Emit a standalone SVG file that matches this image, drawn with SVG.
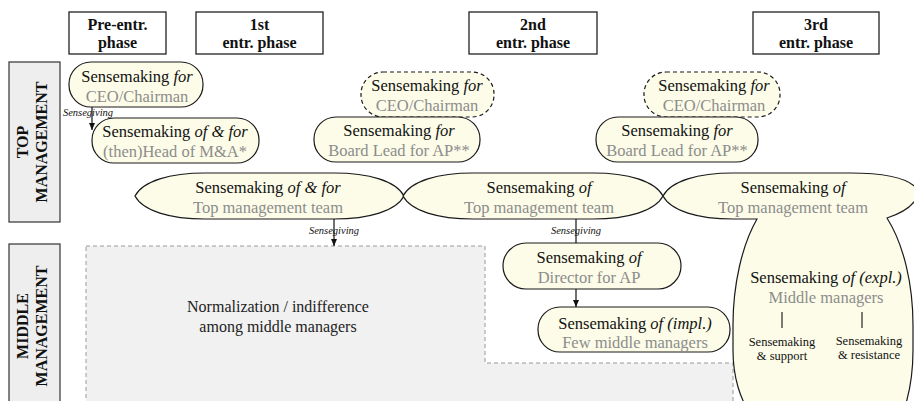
<svg xmlns="http://www.w3.org/2000/svg" width="914" height="401" viewBox="0 0 914 401">
<style>
.node{fill:#fcfce8;stroke:#1a1a1a;stroke-width:1.2}
.dash{stroke-dasharray:4 3}
.hbox{fill:#ffffff;stroke:#222;stroke-width:1.3}
.side{fill:#eeeeee;stroke:#333;stroke-width:1.2}
text{font-family:"Liberation Serif","Times New Roman",Tinos,"DejaVu Serif",serif}
.hdr{font-size:16px;font-weight:bold;fill:#111;text-anchor:middle}
.t1{font-size:16.5px;fill:#111;text-anchor:middle}
.t2{font-size:16.5px;fill:#8c8c8c;text-anchor:middle}
.t3{font-size:16px;fill:#222;text-anchor:middle}
.sm{font-size:12.5px;fill:#111;text-anchor:middle}
.sg{font-size:10.5px;font-style:italic;fill:#111;text-anchor:middle}
.conn{stroke:#111;stroke-width:1.2;fill:none}
.i{font-style:italic}
</style>
<defs>
<marker id="ah" markerWidth="8" markerHeight="8" refX="7" refY="4" orient="auto" markerUnits="userSpaceOnUse"><path d="M0,1 L7,4 L0,7 Z" fill="#111"/></marker>
</defs>

<g id="phase-headers">
<g id="hdr-pre"><rect class="hbox" x="69" y="12" width="97" height="42"/><text class="hdr" x="117.5" y="30">Pre-entr.</text><text class="hdr" x="117.5" y="48">phase</text></g>
<g id="hdr-1st"><rect class="hbox" x="196" y="12" width="127" height="42"/><text class="hdr" x="259.5" y="30">1st</text><text class="hdr" x="259.5" y="48">entr. phase</text></g>
<g id="hdr-2nd"><rect class="hbox" x="469" y="12" width="128" height="42"/><text class="hdr" x="533" y="30">2nd</text><text class="hdr" x="533" y="48">entr. phase</text></g>
<g id="hdr-3rd"><rect class="hbox" x="753" y="12" width="126" height="42"/><text class="hdr" x="816" y="30">3rd</text><text class="hdr" x="816" y="48">entr. phase</text></g>
</g>

<g id="side-top">
<rect class="side" x="9" y="62" width="51" height="160"/>
<text class="hdr" transform="translate(28,142) rotate(-90)">TOP</text>
<text class="hdr" transform="translate(47,142) rotate(-90)">MANAGEMENT</text>
</g>
<g id="side-middle">
<rect class="side" x="9" y="244" width="51" height="170"/>
<text class="hdr" transform="translate(28,326) rotate(-90)">MIDDLE</text>
<text class="hdr" transform="translate(47,326) rotate(-90)">MANAGEMENT</text>
</g>

<g id="normalization-region">
<polygon points="86,246 485,246 485,363 733,363 733,410 86,410" fill="#f1f1f1" stroke="#9a9a9a" stroke-width="1" stroke-dasharray="4 3"/>
<text class="t3" x="278" y="312">Normalization / indifference</text>
<text class="t3" x="278" y="332">among middle managers</text>
</g>

<g id="n-ceo-pre">
<rect class="node" x="69" y="62" width="134" height="45" rx="22" ry="22"/>
<text class="t1" x="137" y="82">Sensemaking <tspan class="i">for</tspan></text>
<text class="t2" x="137" y="102">CEO/Chairman</text>
</g>
<g id="n-head-ma">
<rect class="node" x="92" y="118" width="167" height="45" rx="22" ry="22"/>
<text class="t1" x="175" y="137">Sensemaking <tspan class="i">of &amp; for</tspan></text>
<text class="t2" x="175" y="157">(then)Head of M&amp;A*</text>
</g>
<g id="n-ceo-2nd">
<rect class="node dash" x="361" y="72" width="133" height="45" rx="22" ry="22"/>
<text class="t1" x="427" y="91">Sensemaking <tspan class="i">for</tspan></text>
<text class="t2" x="427" y="111">CEO/Chairman</text>
</g>
<g id="n-board-2nd">
<rect class="node" x="314" y="117" width="166" height="45" rx="22" ry="22"/>
<text class="t1" x="399" y="136">Sensemaking <tspan class="i">for</tspan></text>
<text class="t2" x="399" y="156">Board Lead for AP**</text>
</g>
<g id="n-ceo-3rd">
<rect class="node dash" x="644" y="72" width="136" height="45" rx="22" ry="22"/>
<text class="t1" x="714" y="91">Sensemaking <tspan class="i">for</tspan></text>
<text class="t2" x="714" y="111">CEO/Chairman</text>
</g>
<g id="n-board-3rd">
<rect class="node" x="596" y="117" width="162" height="45" rx="22" ry="22"/>
<text class="t1" x="677" y="136">Sensemaking <tspan class="i">for</tspan></text>
<text class="t2" x="677" y="156">Board Lead for AP**</text>
</g>

<g id="n-tmt-1st">
<path class="node" d="M135,196 C143,181 170,173 205,173 L334,173 C369,173 396,181 404,196 C396,211 369,219 334,219 L205,219 C170,219 143,211 135,196 Z"/>
<text class="t1" x="268" y="193">Sensemaking <tspan class="i">of &amp; for</tspan></text>
<text class="t2" x="268" y="213">Top management team</text>
</g>
<g id="n-tmt-2nd">
<path class="node" d="M403,196 C411,181 438,173 473,173 L593,173 C628,173 655,181 663,196 C655,211 628,219 593,219 L473,219 C438,219 411,211 403,196 Z"/>
<text class="t1" x="539" y="193">Sensemaking <tspan class="i">of</tspan></text>
<text class="t2" x="539" y="213">Top management team</text>
</g>
<g id="n-tmt-3rd-mm">
<path class="node" d="M663,196 C671,181 698,173 733,173 L850,173 C885,173 912,178 919,192 C916,205 902,213 887,218 C904,245 913,285 913,325 L913,350 C913,378 909,398 901,418 L752,418 C740,398 733,378 733,350 L733,325 C733,285 742,245 757,219 L733,219 C698,219 671,211 663,196 Z"/>
<text class="t1" x="793" y="193">Sensemaking <tspan class="i">of</tspan></text>
<text class="t2" x="793" y="213">Top management team</text>
<text class="t1" x="826" y="283">Sensemaking <tspan class="i">of (expl.)</tspan></text>
<text class="t2" x="826" y="303">Middle managers</text>
<line x1="782" y1="312" x2="782" y2="328" stroke="#111" stroke-width="1.1"/>
<line x1="862" y1="312" x2="862" y2="328" stroke="#111" stroke-width="1.1"/>
<text class="sm" x="782" y="346">Sensemaking</text>
<text class="sm" x="782" y="360">&amp; support</text>
<text class="sm" x="869" y="345">Sensemaking</text>
<text class="sm" x="869" y="359">&amp; resistance</text>
</g>

<g id="n-director">
<rect class="node" x="503" y="243" width="178" height="46" rx="23" ry="23"/>
<text class="t1" x="589" y="263">Sensemaking <tspan class="i">of</tspan></text>
<text class="t2" x="589" y="283">Director for AP</text>
</g>
<g id="n-few-mm">
<rect class="node" x="538" y="307" width="192" height="45" rx="22" ry="22"/>
<text class="t1" x="635" y="329">Sensemaking <tspan class="i">of (impl.)</tspan></text>
<text class="t2" x="635" y="348">Few middle managers</text>
</g>

<g id="connectors">
<line class="conn" x1="92" y1="107" x2="92" y2="130" marker-end="url(#ah)"/>
<line class="conn" x1="334" y1="219" x2="334" y2="246" marker-end="url(#ah)"/>
<line class="conn" x1="576" y1="219" x2="576" y2="243"/>
<line class="conn" x1="576" y1="289" x2="576" y2="307" marker-end="url(#ah)"/>
<text class="sg" x="88" y="116">Sensegiving</text>
<text class="sg" x="334" y="234">Sensegiving</text>
<text class="sg" x="576" y="234">Sensegiving</text>
</g>
</svg>
